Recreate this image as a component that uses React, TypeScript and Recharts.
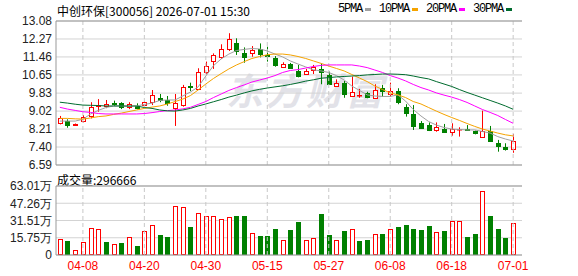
import {
  Bar,
  BarChart,
  CartesianGrid,
  ComposedChart,
  Line,
  ReferenceLine,
  XAxis,
  YAxis,
} from "recharts";

const DATES = [
  "04-02", "04-03", "04-07", "04-08", "04-09", "04-10", "04-13", "04-14", "04-15", "04-16",
  "04-17", "04-20", "04-21", "04-22", "04-23", "04-24", "04-27", "04-28", "04-29", "04-30",
  "05-06", "05-07", "05-08", "05-11", "05-12", "05-13", "05-14", "05-15", "05-18", "05-19",
  "05-20", "05-21", "05-22", "05-25", "05-26", "05-27", "05-28", "05-29", "06-01", "06-02",
  "06-03", "06-04", "06-05", "06-08", "06-09", "06-10", "06-11", "06-12", "06-15", "06-16",
  "06-17", "06-18", "06-22", "06-23", "06-24", "06-25", "06-26", "06-29", "06-30", "07-01",
];

const OPEN = [
  8.5, 8.57, 8.38, 8.57, 8.8, 9.25, 9.24, 9.39, 9.37, 9.2,
  9.25, 9.29, 9.42, 9.62, 9.52, 9.15, 9.29, 10.15, 10.0, 10.77,
  11.28, 11.47, 11.82, 12.07, 11.62, 11.62, 11.82, 11.55, 11.43, 11.02,
  11.13, 10.84, 10.69, 10.87, 10.92, 10.65, 10.16, 10.3, 9.7, 9.74,
  9.85, 9.62, 10.07, 9.78, 9.92, 9.22, 8.89, 8.5, 8.39, 8.18,
  8.21, 8.06, 8.2, 8.2, 8.14, 7.87, 8.12, 7.6, 7.42, 7.3,
];
const HIGH = [
  8.8, 8.65, 8.46, 8.84, 9.42, 9.56, 9.52, 9.49, 9.42, 9.42,
  9.37, 9.47, 9.97, 9.79, 9.7, 9.79, 10.2, 10.3, 10.95, 11.25,
  11.62, 12.03, 12.53, 12.3, 11.89, 11.95, 12.07, 11.92, 11.5, 11.22,
  11.19, 11.1, 10.92, 11.1, 11.17, 10.8, 10.45, 10.38, 10.57, 10.02,
  9.89, 10.23, 10.2, 10.3, 10.05, 9.33, 9.29, 8.57, 8.51, 8.51,
  8.44, 8.47, 8.29, 8.39, 8.14, 9.04, 8.35, 7.72, 7.57, 7.99,
];
const LOW = [
  8.42, 8.27, 8.38, 8.51, 8.69, 8.99, 9.15, 9.25, 9.11, 9.11,
  9.1, 9.26, 9.29, 9.42, 9.26, 8.35, 9.22, 9.92, 9.97, 10.68,
  10.92, 11.37, 11.73, 11.55, 11.2, 11.47, 11.44, 11.25, 11.02, 11.02,
  10.92, 10.54, 10.65, 10.69, 10.23, 10.2, 10.16, 9.62, 9.7, 9.62,
  9.6, 9.6, 9.67, 9.67, 9.33, 8.77, 8.17, 8.24, 8.12, 8.09,
  8.09, 7.91, 7.87, 8.14, 7.97, 7.82, 7.67, 7.19, 7.24, 7.14,
];
const CLOSE = [
  8.69, 8.39, 8.44, 8.77, 9.19, 9.29, 9.34, 9.36, 9.19, 9.34,
  9.15, 9.42, 9.75, 9.52, 9.37, 9.37, 10.12, 10.11, 10.8, 11.07,
  11.55, 11.82, 12.26, 11.73, 11.47, 11.77, 11.59, 11.52, 11.1, 11.13,
  10.95, 10.6, 10.84, 11.02, 10.77, 10.24, 10.27, 9.78, 9.87, 9.76,
  9.67, 9.98, 9.92, 9.92, 9.42, 8.95, 8.36, 8.27, 8.17, 8.29,
  8.09, 8.21, 8.23, 8.15, 8.05, 8.14, 7.69, 7.45, 7.3, 7.67,
];

const MA5 = [
  8.57, 8.57, 8.57, 8.65, 8.89, 9.05, 9.18, 9.25, 9.25, 9.23,
  9.25, 9.32, 9.38, 9.5, 9.52, 9.52, 9.7, 9.88, 10.11, 10.6,
  11.07, 11.37, 11.59, 11.75, 11.8, 11.84, 11.82, 11.73, 11.59, 11.46,
  11.28, 11.14, 11.01, 10.88, 10.83, 10.76, 10.62, 10.42, 10.15, 9.95,
  9.75, 9.7, 9.68, 9.68, 9.75, 9.47, 9.09, 8.8, 8.55, 8.39,
  8.28, 8.21, 8.19, 8.17, 8.17, 8.1, 8.03, 7.87, 7.76, 7.67,
];
const MA10 = [
  8.69, 8.69, 8.67, 8.66, 8.71, 8.77, 8.8, 8.87, 8.93, 9.0,
  9.07, 9.14, 9.2, 9.25, 9.34, 9.45, 9.56, 9.72, 9.97, 10.24,
  10.49, 10.71, 10.92, 11.1, 11.25, 11.39, 11.48, 11.56, 11.59, 11.59,
  11.55, 11.48, 11.39, 11.28, 11.17, 11.05, 10.94, 10.83, 10.67, 10.51,
  10.35, 10.15, 9.99, 9.84, 9.75, 9.63, 9.45, 9.34, 9.18, 9.02,
  8.87, 8.73, 8.6, 8.46, 8.33, 8.21, 8.12, 8.03, 7.95, 7.9,
];
const MA20 = [
  9.19, 9.11, 9.05, 8.99, 8.96, 8.91, 8.89, 8.89, 8.89, 8.89,
  8.89, 8.91, 8.95, 9.0, 9.04, 9.07, 9.12, 9.19, 9.32, 9.45,
  9.63, 9.79, 9.95, 10.08, 10.2, 10.33, 10.42, 10.51, 10.62, 10.76,
  10.85, 10.89, 10.96, 11.03, 11.08, 11.1, 11.1, 11.1, 11.1, 11.05,
  10.98, 10.87, 10.76, 10.62, 10.51, 10.38, 10.22, 10.08, 9.97, 9.84,
  9.74, 9.65, 9.54, 9.41, 9.25, 9.09, 8.96, 8.82, 8.64, 8.47,
];
const MA30 = [
  9.42, 9.38, 9.33, 9.29, 9.28, 9.27, 9.25, 9.25, 9.25, 9.25,
  9.25, 9.18, 9.14, 9.07, 9.03, 9.02, 9.07, 9.14, 9.25, 9.34,
  9.44, 9.54, 9.65, 9.74, 9.84, 9.93, 10.0, 10.06, 10.11, 10.16,
  10.22, 10.29, 10.37, 10.43, 10.5, 10.53, 10.56, 10.58, 10.6, 10.62,
  10.65, 10.67, 10.69, 10.69, 10.68, 10.66, 10.6, 10.53, 10.47, 10.35,
  10.24, 10.13, 9.99, 9.86, 9.74, 9.62, 9.5, 9.38, 9.25, 9.1,
];

// 成交量 (手)
const VOLUME = [
  148000, 130000, 48000, 118000, 245000, 239000, 121000, 100000, 109000, 164000,
  85000, 221000, 273000, 185000, 166000, 446000, 436000, 257000, 382000, 355000,
  355000, 327000, 346000, 357000, 357000, 200000, 175000, 175000, 239000, 139000,
  230000, 303000, 139000, 155000, 376000, 185000, 139000, 221000, 236000, 130000,
  139000, 191000, 194000, 236000, 255000, 273000, 239000, 230000, 266000, 209000,
  221000, 312000, 312000, 164000, 191000, 582000, 357000, 239000, 157000, 296666,
];
const VOL_UP = [
  1, 0, 1, 1, 1, 1, 0, 1, 0, 1,
  0, 1, 1, 0, 0, 1, 1, 0, 1, 1,
  1, 1, 1, 0, 0, 1, 0, 0, 0, 1,
  0, 0, 1, 1, 0, 0, 1, 0, 1, 0,
  0, 1, 0, 1, 0, 0, 0, 0, 0, 1,
  0, 1, 1, 0, 0, 1, 0, 0, 0, 1,
];

const TICK_DATES = ["04-08", "04-20", "04-30", "05-15", "05-27", "06-08", "06-18", "07-01"];
const PRICE_TICKS = [6.59, 7.4, 8.21, 9.02, 9.83, 10.65, 11.46, 12.27, 13.08];
const VOL_TICKS = [0, 157500, 315100, 472600, 630100];

const MA_LINES = [
  { key: "ma5", name: "5PMA", color: "#a0a0a0" },
  { key: "ma10", name: "10PMA", color: "#f5a300" },
  { key: "ma20", name: "20PMA", color: "#ff00ff" },
  { key: "ma30", name: "30PMA", color: "#006b2e" },
];

const RED = "#ff0000";
const GREEN = "#008000";
const FRAME = "#999999";
const GRID = "#d3d3d3";

const rows = DATES.map((date, i) => ({
  date,
  open: OPEN[i],
  high: HIGH[i],
  low: LOW[i],
  close: CLOSE[i],
  ma5: MA5[i],
  ma10: MA10[i],
  ma20: MA20[i],
  ma30: MA30[i],
  vol: VOLUME[i],
  volUp: VOL_UP[i] === 1,
}));

const tickFont = { fontSize: 12, fill: "#222", fontFamily: "Liberation Sans" };

function Candle(props: any) {
  const { x, y, width, height, payload } = props;
  if (!payload) return null;
  const { open, close, high, low } = payload;
  const top = Math.min(y, y + height);
  const span = Math.abs(height);
  const range = high - low || 1;
  const py = (v: number) => top + ((high - v) / range) * span;
  const up = close >= open;
  const color = up ? RED : GREEN;
  const cx = Math.round(x + width / 2) + 0.5;
  const bTop = Math.round(py(Math.max(open, close))) + 0.5;
  const bBot = Math.round(py(Math.min(open, close))) + 0.5;
  return (
    <g>
      <line x1={cx} x2={cx} y1={top} y2={top + span} stroke={color} strokeWidth={1} />
      <rect
        x={cx - 2}
        y={bTop}
        width={4}
        height={Math.max(0.5, bBot - bTop)}
        fill={up ? "#fff" : color}
        stroke={color}
        strokeWidth={1}
      />
    </g>
  );
}

function VolBar(props: any) {
  const { x, y, width, height, payload } = props;
  if (!payload || height <= 0) return null;
  const color = payload.volUp ? RED : GREEN;
  const cx = Math.round(x + width / 2);
  return (
    <rect
      x={cx - 2 + 0.5}
      y={Math.round(y) + 0.5}
      width={4}
      height={Math.max(0, Math.round(height) - 1)}
      fill={payload.volUp ? "#fff" : color}
      stroke={color}
      strokeWidth={1}
    />
  );
}

export default function App() {
  const last = rows[rows.length - 1];
  return (
    <div
      style={{
        position: "absolute",
        left: 0,
        top: 0,
        width: 578,
        height: 276,
        background: "#fff",
        overflow: "hidden",
      }}
    >
      {/* 水印 */}
      <div
        style={{
          position: "absolute",
          left: 226,
          top: 62,
          fontSize: 37,
          fontWeight: 700,
          fontStyle: "italic",
          letterSpacing: 3,
          color: "#e2e2e8",
          fontFamily: "Noto Sans CJK SC",
          whiteSpace: "nowrap",
        }}
      >
        东方财富
      </div>

      <div
        style={{
          position: "absolute",
          left: 57,
          top: 2,
          fontSize: 12,
          color: "#000",
          fontFamily: "Noto Sans CJK SC",
          whiteSpace: "nowrap",
        }}
      >
        中创环保[300056] 2026-07-01 15:30
      </div>

      <div
        style={{
          position: "absolute",
          left: 338,
          top: 2,
          fontSize: 12,
          color: "#000",
          fontFamily: "Liberation Mono",
          display: "flex",
          alignItems: "center",
          whiteSpace: "nowrap",
        }}
      >
        {MA_LINES.map((m) => (
          <span key={m.key} style={{ display: "flex", alignItems: "center", marginRight: 8 }}>
            <span style={{ letterSpacing: -1.2 }}>{m.name}</span>
            <span
              style={{
                display: "inline-block",
                width: 6,
                height: 3,
                marginLeft: 3,
                background: m.color,
              }}
            />
          </span>
        ))}
      </div>

      <div
        style={{
          position: "absolute",
          left: 57,
          top: 171,
          fontSize: 12,
          color: "#000",
          fontFamily: "Noto Sans CJK SC",
          whiteSpace: "nowrap",
        }}
      >
        成交量:{last.vol}
      </div>

      <div style={{ position: "absolute", left: 0, top: 170 }}>
        <BarChart
          width={578}
          height={106}
          data={rows}
          margin={{ top: 16, right: 56, bottom: 0, left: 0 }}
        >
          <CartesianGrid vertical={false} stroke={GRID} />
          <XAxis
            dataKey="date"
            ticks={TICK_DATES}
            interval={0}
            height={21}
            padding={{ left: 0, right: 5 }}
            tickLine={false}
            tickSize={0}
            tickMargin={6}
            axisLine={{ stroke: FRAME }}
            tick={{ fontSize: 12, fill: RED, fontFamily: "Liberation Sans" }}
          />
          <YAxis
            domain={[0, 630100]}
            ticks={VOL_TICKS}
            interval={0}
            allowDataOverflow
            width={56}
            tickLine={false}
            tickSize={0}
            tickMargin={4}
            axisLine={{ stroke: FRAME }}
            tick={tickFont}
            tickFormatter={(v: number) => (v === 0 ? "0" : (v / 10000).toFixed(2) + "万")}
          />
          <YAxis
            yAxisId="frame"
            orientation="right"
            width={0}
            domain={[0, 1]}
            tick={false}
            tickLine={false}
            axisLine={{ stroke: FRAME }}
          />
          {TICK_DATES.map((d) => (
            <ReferenceLine key={d} x={d} stroke="#c8c8c8" strokeDasharray="4 3" />
          ))}
          <ReferenceLine y={630100} stroke={FRAME} />
          <Bar dataKey="vol" shape={VolBar} isAnimationActive={false} />
        </BarChart>
      </div>

      <div style={{ position: "absolute", left: 0, top: 0 }}>
        <ComposedChart
          width={578}
          height={176}
          data={rows}
          margin={{ top: 21, right: 56, bottom: 11, left: 0 }}
        >
          <CartesianGrid vertical={false} stroke={GRID} />
          <XAxis dataKey="date" hide padding={{ left: 0, right: 5 }} />
          <YAxis
            domain={[6.59, 13.08]}
            ticks={PRICE_TICKS}
            interval={0}
            allowDataOverflow
            width={56}
            tickLine={false}
            tickSize={0}
            tickMargin={4}
            axisLine={{ stroke: FRAME }}
            tick={tickFont}
            tickFormatter={(v: number) => v.toFixed(2)}
          />
          <YAxis
            yAxisId="frame"
            orientation="right"
            width={0}
            domain={[0, 1]}
            tick={false}
            tickLine={false}
            axisLine={{ stroke: FRAME }}
          />
          {TICK_DATES.map((d) => (
            <ReferenceLine key={d} x={d} stroke="#c8c8c8" strokeDasharray="4 3" />
          ))}
          <ReferenceLine y={13.08} stroke={FRAME} />
          <ReferenceLine y={6.59} stroke={FRAME} />
          <Bar
            dataKey={(d: any) => [d.low, d.high]}
            shape={Candle}
            isAnimationActive={false}
          />
          {MA_LINES.map((m) => (
            <Line
              key={m.key}
              dataKey={m.key}
              stroke={m.color}
              strokeWidth={1}
              dot={false}
              activeDot={false}
              type="linear"
              isAnimationActive={false}
            />
          ))}
        </ComposedChart>
      </div>
    </div>
  );
}
